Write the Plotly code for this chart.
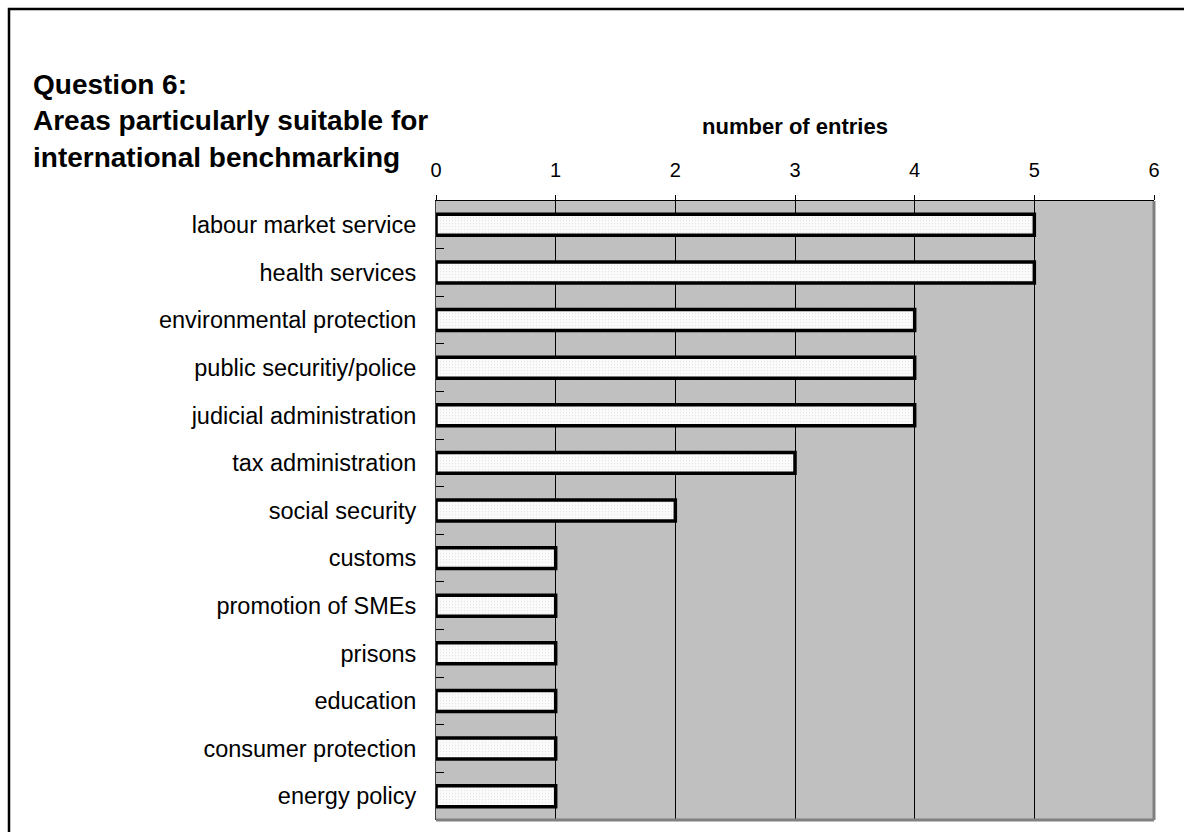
import plotly.graph_objects as go

# Survey results: areas named as suitable for international benchmarking
areas = [
    "labour market service",
    "health services",
    "environmental protection",
    "public securitiy/police",
    "judicial administration",
    "tax administration",
    "social security",
    "customs",
    "promotion of SMEs",
    "prisons",
    "education",
    "consumer protection",
    "energy policy",
]
entries = [5, 5, 4, 4, 4, 3, 2, 1, 1, 1, 1, 1, 1]
x_ticks = [0, 1, 2, 3, 4, 5, 6]

FONT = "Liberation Sans, Arial, Helvetica, sans-serif"
W, H = 1184, 832
L, R, T, B = 436, 30, 201, 12

fig = go.Figure(
    go.Bar(
        x=entries,
        y=areas,
        orientation="h",
        marker=dict(
            color="#fbfbfb",
            line=dict(color="#000000", width=3.5),
            pattern=dict(shape=".", fgcolor="#d0d0d0", bgcolor="#fbfbfb",
                         size=3, solidity=0.15),
        ),
        hoverinfo="x+y",
    )
)

# plot-area frame and outer chart border, positioned in paper units
pw, ph = W - L - R, H - T - B
def px_x(v):
    return (v - L) / pw
def px_y(v):
    return (H - B - v) / ph

fig.update_layout(
    width=W,
    height=H,
    autosize=False,
    margin=dict(l=L, r=R, t=T, b=B, pad=0),
    paper_bgcolor="white",
    plot_bgcolor="#c0c0c0",
    bargap=0.56,
    showlegend=False,
    font=dict(family=FONT, color="#000000"),
    title=dict(
        text="Question 6:<br>Areas particularly suitable for<br>international benchmarking",
        font=dict(family=FONT, size=28, color="#000000", weight="bold"),
        xref="container",
        yref="container",
        x=33 / W,
        xanchor="left",
        y=1 - 94 / H,
        yanchor="top",
        automargin=False,
    ),
    xaxis=dict(
        side="top",
        range=[0, 6],
        tickvals=x_ticks,
        ticktext=[str(v) for v in x_ticks],
        tickfont=dict(size=20, family=FONT),
        ticks="outside",
        ticklen=5,
        tickcolor="#000000",
        showline=True,
        linecolor="#000000",
        linewidth=1,
        showgrid=True,
        gridcolor="#000000",
        gridwidth=1,
        zeroline=False,
        ticklabelstandoff=10,
        title=dict(text="<b>number of entries</b>",
                   font=dict(size=22, family=FONT), standoff=18),
        fixedrange=True,
    ),
    yaxis=dict(
        categoryorder="array",
        categoryarray=areas,
        autorange="reversed",
        tickson="boundaries",
        ticks="inside",
        ticklen=8,
        tickcolor="#000000",
        tickfont=dict(size=23.5, family=FONT),
        showline=True,
        linecolor="#404040",
        linewidth=1,
        showgrid=False,
        ticklabelstandoff=14,
        fixedrange=True,
    ),
    shapes=[
        # grey frame around the plotting area (right and bottom form a shadow)
        dict(type="line", xref="paper", yref="paper", x0=1, x1=1, y0=0, y1=1,
             line=dict(color="#808080", width=3), layer="above"),
        dict(type="line", xref="paper", yref="paper", x0=0, x1=1, y0=0, y1=0,
             line=dict(color="#808080", width=3), layer="above"),
        # outer chart border
        dict(type="rect", xref="paper", yref="paper",
             x0=px_x(9), x1=px_x(1210), y0=px_y(860), y1=px_y(9),
             line=dict(color="#000000", width=2.5), fillcolor="rgba(0,0,0,0)",
             layer="above"),
    ],
)

fig.write_html("out.html")
